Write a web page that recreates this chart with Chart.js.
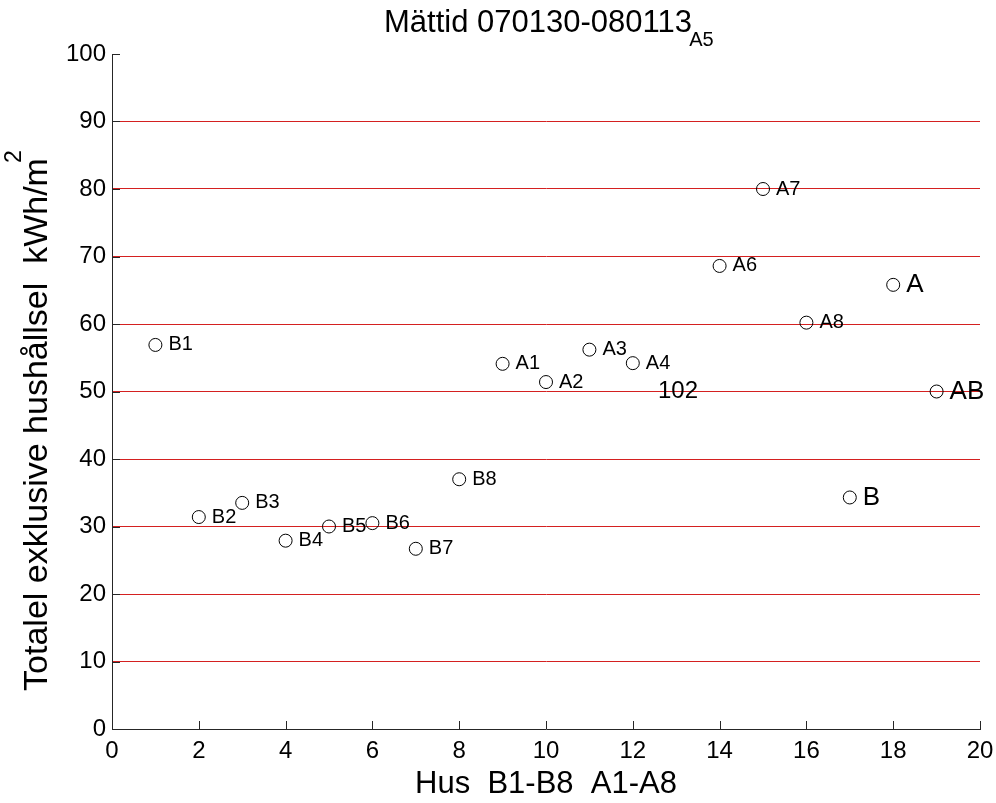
<!DOCTYPE html>
<html>
<head>
<meta charset="utf-8">
<title>Mättid 070130-080113</title>
<script src="https://cdn.jsdelivr.net/npm/chart.js@4.4.1/dist/chart.umd.min.js"></script>
<style>
  html, body { margin: 0; padding: 0; background: #fff; }
</style>
</head>
<body>
<canvas id="husChart" width="996" height="803"></canvas>
<script>
// Houses B1-B8 and A1-A8
const husNames = ["B1", "B2", "B3", "B4", "B5", "B6", "B7", "B8",
                  "A1", "A2", "A3", "A4", "A5", "A6", "A7", "A8"];
const husX = [1, 2, 3, 4, 5, 6, 7, 8, 9, 10, 11, 12, 13, 14, 15, 16];
const husY = [56.9, 31.4, 33.5, 27.9, 30.0, 30.5, 26.7, 37.0,
              54.1, 51.4, 56.2, 54.2, 102, 68.6, 80.0, 60.2];

// Group means
const groupNames = ["B", "A", "AB"];
const groupX = [17, 18, 19];
const groupY = [34.3, 65.8, 50.0];

// stray text in the figure
const noteText = ["102"];
const noteX = [12.58];
const noteY = [50.0];

const xTicks = [0, 2, 4, 6, 8, 10, 12, 14, 16, 18, 20];
const yTicks = [0, 10, 20, 30, 40, 50, 60, 70, 80, 90, 100];

const FONT = '"Liberation Sans", Arial, sans-serif';
const AXIS_COLOR = "#262626";

function toPoints(xs, ys) {
  return xs.map((x, i) => ({ x: x, y: ys[i] }));
}

// ticks pointing into the plot, like the original
const innerTicks = {
  id: "innerTicks",
  afterDraw(chart) {
    const { ctx, chartArea: a, scales } = chart;
    ctx.save();
    ctx.strokeStyle = AXIS_COLOR;
    ctx.lineWidth = 1;
    ctx.beginPath();
    scales.x.ticks.forEach((t) => {
      const px = Math.round(scales.x.getPixelForValue(t.value)) + 0.5;
      ctx.moveTo(px, a.bottom);
      ctx.lineTo(px, a.bottom - 8);
    });
    scales.y.ticks.forEach((t) => {
      const py = Math.round(scales.y.getPixelForValue(t.value)) + 0.5;
      ctx.moveTo(a.left, py);
      ctx.lineTo(a.left + 8, py);
    });
    ctx.stroke();
    ctx.restore();
  },
};

// text next to each marker, plus title and y title
const figureText = {
  id: "figureText",
  afterDraw(chart) {
    const { ctx, chartArea: a, scales } = chart;
    ctx.save();
    ctx.fillStyle = "#000";
    ctx.textBaseline = "middle";
    ctx.textAlign = "left";

    chart.data.datasets.forEach((ds, di) => {
      const meta = chart.getDatasetMeta(di);
      ctx.font = ds.labelSize + "px " + FONT;
      meta.data.forEach((pt, i) => {
        ctx.fillText(ds.names[i], pt.x + 13, pt.y);
      });
    });

    ctx.font = "24px " + FONT;
    noteText.forEach((t, i) => {
      ctx.fillText(t, scales.x.getPixelForValue(noteX[i]), scales.y.getPixelForValue(noteY[i]));
    });

    // title
    ctx.textAlign = "center";
    ctx.font = "31px " + FONT;
    ctx.fillText("Mättid 070130-080113", (a.left + a.right) / 2 - 8, 23);

    // y axis title, rotated, with raised 2
    const yTitle = "Totalel exklusive hushållsel  kWh/m";
    ctx.translate(38, (a.top + a.bottom) / 2 + 33);
    ctx.rotate(-Math.PI / 2);
    ctx.font = "34px " + FONT;
    const w = ctx.measureText(yTitle).width;
    ctx.fillText(yTitle, 0, 0);
    ctx.textAlign = "left";
    ctx.font = "23px " + FONT;
    ctx.fillText("2", w / 2 - 5, -23);
    ctx.restore();
  },
};

new Chart(document.getElementById("husChart").getContext("2d"), {
  type: "scatter",
  data: {
    datasets: [
      {
        names: husNames,
        labelSize: 20,
        data: toPoints(husX, husY),
        pointStyle: "circle",
        pointRadius: 6.5,
        pointBorderWidth: 1,
        borderColor: "#000",
        backgroundColor: "rgba(0,0,0,0)",
        clip: 0,
      },
      {
        names: groupNames,
        labelSize: 26,
        data: toPoints(groupX, groupY),
        pointStyle: "circle",
        pointRadius: 6.5,
        pointBorderWidth: 1,
        borderColor: "#000",
        backgroundColor: "rgba(0,0,0,0)",
        clip: 0,
      },
    ],
  },
  options: {
    responsive: false,
    animation: false,
    events: [],
    layout: { padding: { top: 54, right: 0, left: 0, bottom: 0 } },
    plugins: {
      legend: { display: false },
      tooltip: { enabled: false },
    },
    scales: {
      x: {
        type: "linear",
        min: 0,
        max: 20,
        afterBuildTicks: (s) => { s.ticks = xTicks.map((v) => ({ value: v })); },
        afterFit: (s) => {
          s.height = 74;
          s.paddingLeft = 0;
          s.paddingRight = 16;
        },
        grid: { display: false, drawTicks: false },
        border: { display: true, color: AXIS_COLOR, width: 1 },
        ticks: { color: "#000", font: { family: FONT, size: 24 }, padding: 8, maxRotation: 0 },
        title: {
          display: true,
          text: "Hus  B1-B8  A1-A8",
          color: "#000",
          font: { family: FONT, size: 31 },
          padding: { top: 0, bottom: 0 },
        },
      },
      y: {
        type: "linear",
        min: 0,
        max: 100,
        afterBuildTicks: (s) => { s.ticks = yTicks.map((v) => ({ value: v })); },
        afterFit: (s) => { s.width = 112; },
        grid: {
          drawTicks: false,
          lineWidth: 1,
          color: (c) => (c.tick && c.tick.value > 0 && c.tick.value < 100 ? "#d42020" : "rgba(0,0,0,0)"),
        },
        border: { display: true, color: AXIS_COLOR, width: 1 },
        ticks: { color: "#000", font: { family: FONT, size: 24 }, padding: 6 },
      },
    },
  },
  plugins: [innerTicks, figureText],
});
</script>
</body>
</html>
